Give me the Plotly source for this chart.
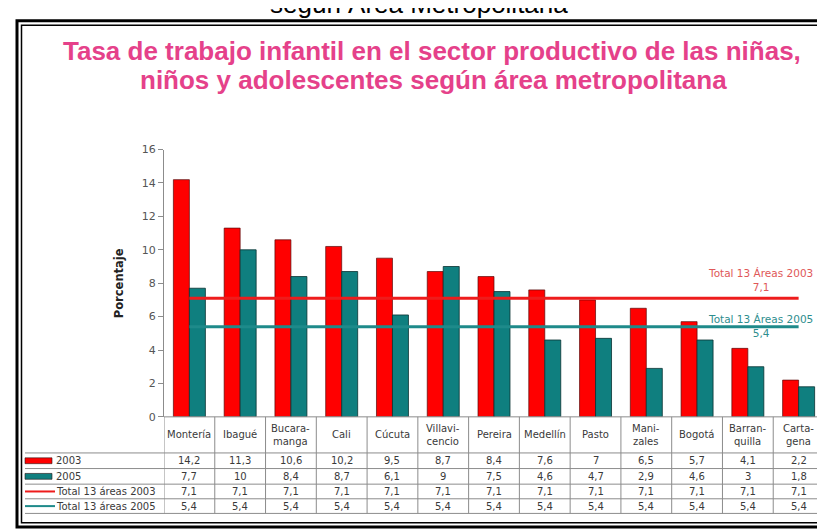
import plotly.graph_objects as go

# datos por área metropolitana
areas = ["Montería", "Ibagué", "Bucaramanga", "Cali", "Cúcuta", "Villavicencio", "Pereira",
         "Medellín", "Pasto", "Manizales", "Bogotá", "Barranquilla", "Cartagena"]
area_labels = ["Montería", "Ibagué", "Bucara-<br>manga", "Cali", "Cúcuta", "Villavi-<br>cencio",
               "Pereira", "Medellín", "Pasto", "Mani-<br>zales", "Bogotá", "Barran-<br>quilla",
               "Carta-<br>gena"]
tasa_2003 = [14.2, 11.3, 10.6, 10.2, 9.5, 8.7, 8.4, 7.6, 7, 6.5, 5.7, 4.1, 2.2]
tasa_2005 = [7.7, 10, 8.4, 8.7, 6.1, 9, 7.5, 4.6, 4.7, 2.9, 4.6, 3, 1.8]
total_2003 = [7.1, 7.1, 7.1, 7.1, 7.1, 7.1, 7.1, 7.1, 7.1, 7.1, 7.1, 7.1, 7.1]
total_2005 = [5.4, 5.4, 5.4, 5.4, 5.4, 5.4, 5.4, 5.4, 5.4, 5.4, 5.4, 5.4, 5.4]
row_names = ["2003", "2005", "Total 13 áreas 2003", "Total 13 áreas 2005"]

W, H = 825, 529
RED, TEAL = "#FF0000", "#0F7F7F"
RED_LINE, TEAL_LINE = "#EE1C1C", "#1E8A8A"
GRID = "#8c8c8c"
FONT = "DejaVu Sans"


def px(x):
    return x / W


def py(y):
    return 1 - y / H


def fmt(v):
    return f"{v:g}".replace(".", ",")


fig = go.Figure()
fig.add_trace(go.Bar(x=areas, y=tasa_2003, name="2003", marker_color=RED,
                     marker_line=dict(color="rgba(90,10,10,0.7)", width=1)))
fig.add_trace(go.Bar(x=areas, y=tasa_2005, name="2005", marker_color=TEAL,
                     marker_line=dict(color="rgba(10,50,50,0.8)", width=1)))
fig.add_trace(go.Scatter(x=areas, y=total_2003, mode="lines", name="Total 13 áreas 2003",
                         line=dict(color=RED_LINE, width=3)))
fig.add_trace(go.Scatter(x=areas, y=total_2005, mode="lines", name="Total 13 áreas 2005",
                         line=dict(color=TEAL_LINE, width=3)))

# posiciones de la tabla (pixeles)
x_left, x_axis, x_right = 17, 156, 816
y_zero, y_top = 413, 139
row_edges = [413, 450, 466, 482, 497, 512]

shapes = []
line_style = dict(color=GRID, width=1)
# líneas horizontales de la tabla
shapes.append(dict(type="line", xref="paper", yref="paper", x0=px(x_axis), x1=px(x_right),
                   y0=py(row_edges[0]), y1=py(row_edges[0]), line=line_style))
for ye in row_edges[1:]:
    shapes.append(dict(type="line", xref="paper", yref="paper", x0=px(x_left), x1=px(x_right),
                       y0=py(ye), y1=py(ye), line=line_style))
# líneas verticales entre columnas
for i in range(len(areas) + 1):
    shapes.append(dict(type="line", xref="x", yref="paper", x0=i - 0.5, x1=i - 0.5,
                       y0=py(row_edges[0]), y1=py(row_edges[-1]), line=line_style))

annotations = []
cell_font = dict(family=FONT, size=10, color="#3a3a3a")
for i, lab in enumerate(area_labels):
    annotations.append(dict(x=areas[i], xref="x", yref="paper", xanchor="center",
                            y=py((row_edges[0] + row_edges[1]) / 2), text=lab, showarrow=False,
                            font=cell_font, yanchor="middle"))
for r, serie in enumerate([tasa_2003, tasa_2005, total_2003, total_2005]):
    yc = py((row_edges[r + 1] + row_edges[r + 2]) / 2)
    for i, v in enumerate(serie):
        annotations.append(dict(x=areas[i], xref="x", yref="paper", y=yc, text=fmt(v),
                                xanchor="center", showarrow=False, font=cell_font,
                                yanchor="middle"))
    annotations.append(dict(x=px(46), xref="paper", yref="paper", y=yc, text=row_names[r],
                            xanchor="left", showarrow=False, font=cell_font, yanchor="middle"))

# claves de la leyenda en la tabla
key_colors = [RED, TEAL, RED_LINE, TEAL_LINE]
for r, c in enumerate(key_colors):
    yc = (row_edges[r + 1] + row_edges[r + 2]) / 2
    if r < 2:
        shapes.append(dict(type="rect", xref="paper", yref="paper", x0=px(17), x1=px(44),
                           y0=py(yc - 3), y1=py(yc + 3), fillcolor=c,
                           line=dict(color="rgba(40,20,20,0.6)", width=1)))
    else:
        shapes.append(dict(type="line", xref="paper", yref="paper", x0=px(17), x1=px(47),
                           y0=py(yc), y1=py(yc), line=dict(color=c, width=2)))

# marco doble
shapes.append(dict(type="rect", xref="paper", yref="paper", x0=px(9), x1=px(900),
                   y0=py(7), y1=py(526), line=dict(color="black", width=3)))
shapes.append(dict(type="rect", xref="paper", yref="paper", x0=px(13.5), x1=px(900),
                   y0=py(11.5), y1=py(521.5), line=dict(color="black", width=1.5)))

# títulos
annotations.append(dict(x=px(411), y=py(-10), xref="paper", yref="paper", showarrow=False,
                        text="según Área Metropolitana", xanchor="center", yanchor="middle",
                        font=dict(family="Liberation Sans", size=26, color="black")))
title_font = dict(family="Liberation Sans", size=26, color="#E5418A")
annotations.append(dict(x=px(424), y=py(38), xref="paper", yref="paper", showarrow=False,
                        text="<b>Tasa de trabajo infantil en el sector productivo de las niñas,</b>",
                        xanchor="center", yanchor="middle", font=title_font))
annotations.append(dict(x=px(425), y=py(68), xref="paper", yref="paper", showarrow=False,
                        text="<b>niños y adolescentes según área metropolitana</b>",
                        xanchor="center", yanchor="middle", font=title_font))
annotations.append(dict(x=px(111), y=py(276), xref="paper", yref="paper", showarrow=False,
                        text="<b>Porcentaje</b>", textangle=-90, xanchor="center",
                        yanchor="middle", font=dict(family=FONT, size=11.5, color="#222")))
annotations.append(dict(x=px(752), y=py(273), xref="paper", yref="paper", showarrow=False,
                        text=f"Total 13 Áreas 2003<br>{fmt(total_2003[0])}",
                        xanchor="center", yanchor="middle",
                        font=dict(family=FONT, size=10.5, color="#E05858")))
annotations.append(dict(x=px(752), y=py(320), xref="paper", yref="paper", showarrow=False,
                        text=f"Total 13 Áreas 2005<br>{fmt(total_2005[0])}",
                        xanchor="center", yanchor="middle",
                        font=dict(family=FONT, size=10.5, color="#2E8E8E")))

fig.update_layout(
    width=W, height=H, autosize=False,
    margin=dict(l=0, r=0, t=0, b=0),
    paper_bgcolor="white", plot_bgcolor="white",
    showlegend=False,
    barmode="group", bargap=0.37, bargroupgap=0,
    xaxis=dict(domain=[px(x_axis), px(x_right)], range=[-0.5, len(areas) - 0.5],
               showticklabels=False, ticks="", showgrid=False, zeroline=False, showline=False),
    yaxis=dict(domain=[py(y_zero), py(y_top)], range=[0, 16], dtick=2,
               showgrid=False, zeroline=False, showline=True, linecolor=GRID, linewidth=1,
               ticks="outside", ticklen=5, tickcolor=GRID,
               tickfont=dict(family=FONT, size=11, color="#555")),
    shapes=shapes,
    annotations=annotations,
)

fig.write_html("out.html")
